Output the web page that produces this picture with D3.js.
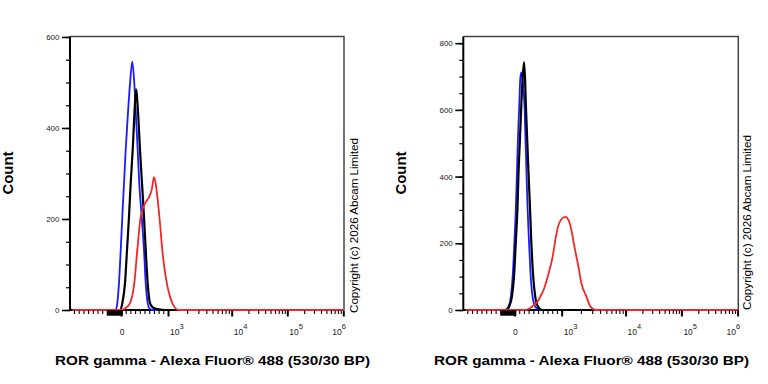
<!DOCTYPE html>
<html><head><meta charset="utf-8">
<script src="https://cdn.jsdelivr.net/npm/d3@7"></script>
<style>
body{margin:0;background:#fff}
svg{display:block}
text{font-family:"Liberation Sans",Arial,Helvetica,sans-serif}
</style>
</head><body>
<svg id="c" width="768" height="384"></svg>
<script>
// ---------- data ----------
const xTitle = "ROR gamma - Alexa Fluor® 488 (530/30 BP)";
const yTitle = "Count";
const copyright = "Copyright (c) 2026 Abcam Limited";

const countTicksLeft = [0, 200, 400, 600];
const countTicksRight = [0, 200, 400, 600, 800];
const countMaxLeft = 601;
const countMaxRight = 820;

const xMajorTicks = [0, 1e3, 1e4, 1e5, 1e6];
const xTickBase = ["0", "10", "10", "10", "10"];
const xTickExp = ["", "3", "4", "5", "6"];
const xMinorNeg = [-1000, -900, -800, -700, -600, -500, -400];
const xMinorPos = [100, 200, 300, 400, 500, 600, 700, 800, 900];
const xDenseNeg = d3.range(-300, 20, 15);
const xDecadeMinor = [2,3,4,5,6,7,8,9];

// left panel: [fluorescence, count]
const leftBlue = [[-1085,0],[-191,0],[-113,0],[-79,15],[-43,59],[-6,132],[28,205],[64,278],[100,352],[143,425],[192,498],[240,546],[283,498],[319,425],[355,352],[389,278],[440,205],[489,132],[526,59],[568,15],[617,2],[681,0],[1.03e6,0]];
const leftBlack = [[-1085,0],[-21,0],[28,15],[85,59],[128,132],[170,205],[206,278],[249,352],[283,425],[319,485],[368,425],[404,352],[447,278],[489,205],[526,132],[568,59],[617,15],[687,5],[830,1],[936,0],[1.03e6,0]];
const leftRed = [[-1085,0],[15,0],[106,5],[192,15],[283,59],[347,132],[419,205],[511,234],[602,249],[653,264],[702,292],[738,278],[781,242],[830,190],[879,132],[951,73],[1075,29],[1288,5],[1451,0],[1.03e6,0]];

// right panel
const rightBlue = [[-1085,0],[-198,0],[-128,10],[-77,40],[-34,110],[0,210],[30,309],[51,409],[72,509],[100,609],[121,690],[143,712],[164,700],[192,659],[213,609],[234,509],[255,409],[277,309],[306,210],[340,110],[383,40],[440,10],[511,2],[568,0],[1.03e6,0]];
const rightBlack = [[-1085,0],[-177,0],[-113,10],[-55,40],[-6,110],[30,210],[64,309],[85,409],[115,509],[143,609],[179,709],[206,743],[243,609],[270,509],[298,409],[328,309],[355,210],[392,110],[440,40],[498,10],[583,0],[1.03e6,0]];
const rightRed = [[-1085,0],[228,0],[370,10],[511,30],[547,40],[617,60],[724,110],[809,160],[866,210],[924,250],[994,272],[1143,279],[1288,269],[1420,240],[1582,190],[1829,130],[2037,80],[2443,40],[2821,10],[3383,0],[1.03e6,0]];

const seriesColors = ["#1a1aff", "#000000", "#f02828"];
const seriesWidths = [1.8, 2.2, 1.8];

// ---------- drawing ----------
const svg = d3.select("#c");

// biexponential-like transform: linear below 10^3, log above
const gT = v => Math.abs(v) <= 1000 ? v / 1000 : Math.sign(v) * (1 + Math.log10(Math.abs(v) / 1000));
const breakG = [-1, 0, 1, 2, 3, 4];
const breakFrac = [4/274, 51/274, 98/274, 161.7/274, 217.3/274, 273.3/274];

function panel(cfg) {
  const {left, width, top, base, yMax, yTicks, series} = cfg;
  const right = left + width;
  const xs = d3.scaleLinear().domain(breakG).range(breakFrac.map(f => left + f * width));
  const ys = d3.scaleLinear().domain([0, yMax]).range([base, top]);
  const G = svg.append("g");

  // frame (top & right)
  G.append("path")
    .attr("d", `M${left},${top}H${right}V${base}`)
    .attr("fill", "none").attr("stroke", "#444").attr("stroke-width", 1.5);

  // baseline
  G.append("line").attr("x1", left).attr("x2", right).attr("y1", base).attr("y2", base)
    .attr("stroke", "#000").attr("stroke-width", 2);

  // histograms
  const line = d3.line().x(d => xs(gT(d[0]))).y(d => ys(d[1])).curve(d3.curveMonotoneX);
  series.forEach((s, i) => {
    G.append("path").attr("d", line(s)).attr("fill", "none")
      .attr("stroke", seriesColors[i]).attr("stroke-width", seriesWidths[i])
      .attr("stroke-linejoin", "round");
  });

  // y minor ticks
  const yMinor = G.append("g").attr("transform", `translate(${left},0)`)
    .call(d3.axisLeft(ys).tickValues(d3.range(0, yMax + 1, 50)).tickSize(4).tickFormat(""));
  yMinor.select(".domain").remove();
  yMinor.selectAll("line").attr("stroke", "#000").attr("stroke-width", 1.2);

  // y major ticks + labels
  const yMaj = G.append("g").attr("transform", `translate(${left},0)`)
    .call(d3.axisLeft(ys).tickValues(yTicks).tickSize(8).tickSizeOuter(0).tickPadding(2.5).tickFormat(d3.format("d")));
  yMaj.select(".domain").remove();
  yMaj.selectAll("line").attr("stroke", "#000").attr("stroke-width", 1.6);
  yMaj.selectAll("text").attr("font-size", 8).attr("fill", "#222")
    .attr("font-family", "'Liberation Sans',Arial,sans-serif");

  // y axis line
  G.append("line").attr("x1", left).attr("x2", left).attr("y1", top).attr("y2", base + 1)
    .attr("stroke", "#000").attr("stroke-width", 2);

  // x ticks (drawn over the curves)
  const minorVals = [...xMinorNeg, ...xMinorPos];
  [1e3, 1e4, 1e5].forEach(d => xDecadeMinor.forEach(m => minorVals.push(d * m)));
  const xMin = G.append("g").attr("transform", `translate(0,${base + 0.5})`)
    .call(d3.axisBottom(xs).tickValues(minorVals.map(gT)).tickSize(3.5).tickFormat(""));
  xMin.select(".domain").remove();
  xMin.selectAll("line").attr("stroke", "#000").attr("stroke-width", 1.1);

  const xDense = G.append("g").attr("transform", `translate(0,${base + 0.5})`)
    .call(d3.axisBottom(xs).tickValues(xDenseNeg.map(gT)).tickSize(5).tickFormat(""));
  xDense.select(".domain").remove();
  xDense.selectAll("line").attr("stroke", "#000").attr("stroke-width", 1.4);

  const xMaj = G.append("g").attr("transform", `translate(0,${base + 0.5})`)
    .call(d3.axisBottom(xs).tickValues(xMajorTicks.map(gT)).tickSize(6).tickFormat(""));
  xMaj.select(".domain").remove();
  xMaj.selectAll("line").attr("stroke", "#000").attr("stroke-width", 2);

  // x labels
  xMajorTicks.forEach((v, i) => {
    const px = xs(gT(v));
    const last = i === xMajorTicks.length - 1;
    const t = G.append("text").attr("y", base + 25).attr("font-size", 8.5).attr("fill", "#222");
    if (xTickExp[i] === "") {
      t.attr("x", px + 1).attr("text-anchor", "middle").text(xTickBase[i]);
    } else {
      t.attr("x", last ? px + 2.5 : px + 2).attr("text-anchor", last ? "end" : "start");
      t.append("tspan").text(xTickBase[i]);
      t.append("tspan").attr("font-size", 7.5).attr("dy", -6).text(xTickExp[i]);
    }
  });

  // titles
  G.append("text").attr("transform", `translate(${cfg.countX},173) rotate(-90)`)
    .attr("text-anchor", "middle").attr("font-size", 14).attr("font-weight", "bold")
    .attr("textLength", 43).attr("lengthAdjust", "spacingAndGlyphs").attr("fill", "#000").text(yTitle);
  G.append("text").attr("x", cfg.titleX).attr("y", 365)
    .attr("font-size", 13.5).attr("font-weight", "bold")
    .attr("textLength", 315).attr("lengthAdjust", "spacingAndGlyphs").attr("fill", "#000").text(xTitle);
  G.append("text").attr("transform", `translate(${cfg.copyX},${cfg.copyY}) rotate(-90)`)
    .attr("text-anchor", "middle").attr("font-size", 11)
    .attr("textLength", 175).attr("lengthAdjust", "spacingAndGlyphs").attr("fill", "#000").text(copyright);
}

panel({left: 70, width: 274, top: 36.5, base: 310, yMax: countMaxLeft, yTicks: countTicksLeft,
  series: [leftBlue, leftBlack, leftRed], countX: 12.5, titleX: 55, copyX: 357.5, copyY: 225.5});
panel({left: 463.3, width: 275, top: 36.5, base: 310, yMax: countMaxRight, yTicks: countTicksRight,
  series: [rightBlue, rightBlack, rightRed], countX: 405.5, titleX: 434, copyX: 750.5, copyY: 222.5});
</script>
</body></html>
